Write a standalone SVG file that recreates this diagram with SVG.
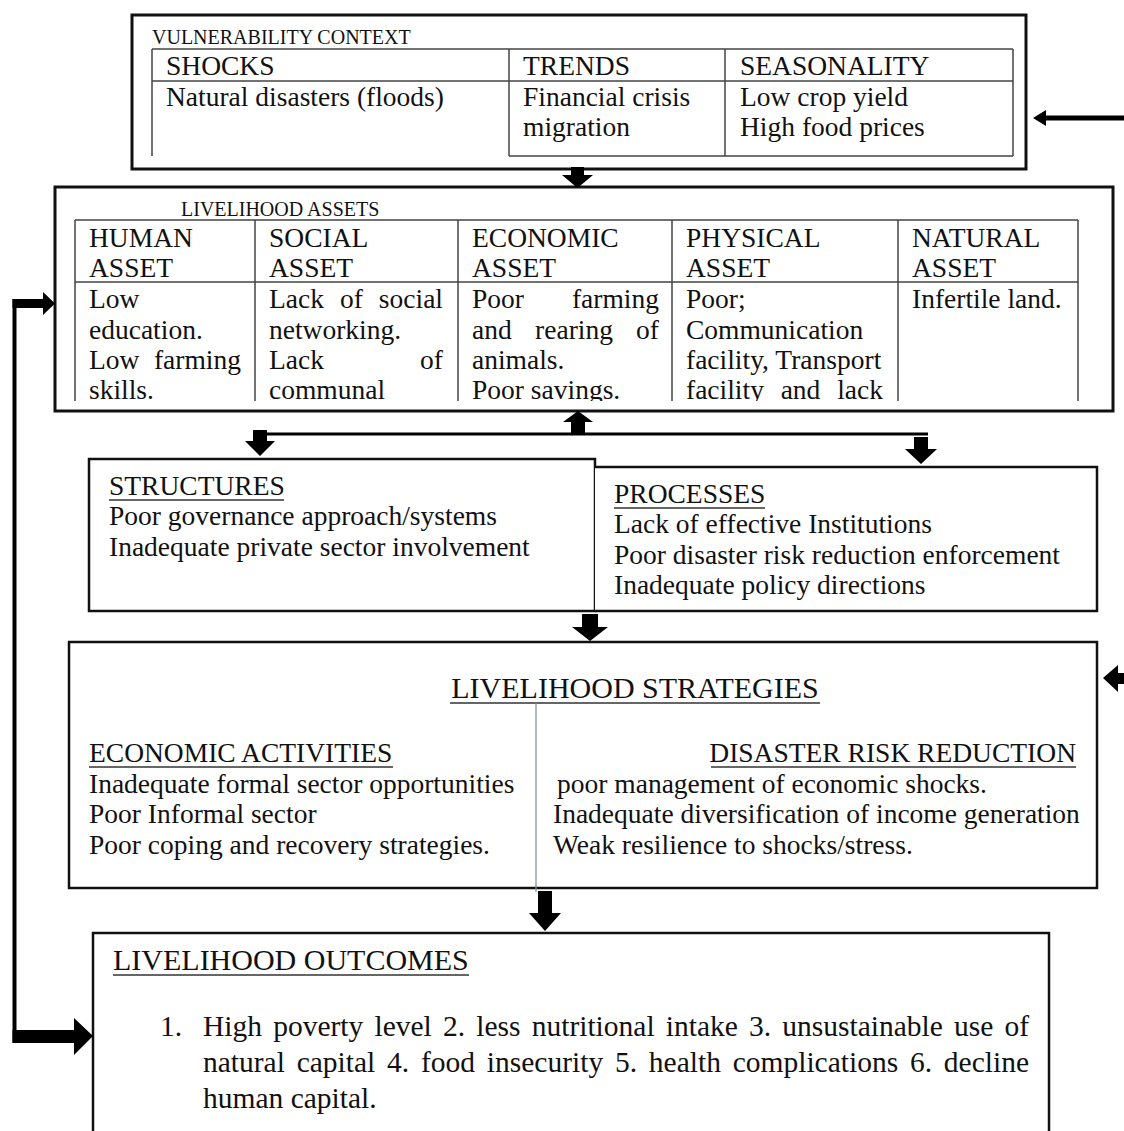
<svg xmlns="http://www.w3.org/2000/svg" width="1124" height="1131" viewBox="0 0 1124 1131">
<style>
text{font-family:"Liberation Serif","Times New Roman",serif;fill:#111;}
.t{font-size:27.5px;}
.s{font-size:20px;}
.h{font-size:30px;}
.o{font-size:29.5px;}
.box{fill:#fff;stroke:#111;stroke-width:2.5;}
.box3{fill:#fff;stroke:#111;stroke-width:3;}
.tbl{fill:none;stroke:#444;stroke-width:1.5;}
.ul{stroke:#333;stroke-width:1.5;}
.arr{fill:#000;}
.ln{fill:none;stroke:#000;}
</style>
<defs>
<clipPath id="assetsClip"><rect x="55" y="187" width="1058" height="214"/></clipPath>
</defs>
<rect width="1124" height="1131" fill="#fff"/>

<g id="node-vulnerability">
<rect class="box3" x="132" y="15" width="894" height="154"/>
<text class="s" x="152" y="44">VULNERABILITY CONTEXT</text>
<path class="tbl" d="M152,49H1013M152,81H1013M152,49V156M509,49V156M725,49V156M1013,49V156M509,156H1013"/>
<text class="t" x="166" y="75">SHOCKS</text>
<text class="t" x="523" y="75">TRENDS</text>
<text class="t" x="740" y="75">SEASONALITY</text>
<text class="t" x="166" y="106">Natural disasters (floods)</text>
<text class="t" x="523" y="106">Financial crisis</text>
<text class="t" x="523" y="136">migration</text>
<text class="t" x="740" y="106">Low crop yield</text>
<text class="t" x="740" y="136">High food prices</text>
</g>

<g id="node-assets">
<rect class="box3" x="55" y="187" width="1058" height="224"/>
<text class="s" x="181" y="216">LIVELIHOOD ASSETS</text>
<g clip-path="url(#assetsClip)">
<path class="tbl" d="M75,220H1078M75,282H1078M75,220V410M255,220V410M458,220V410M672,220V410M898,220V410M1078,220V410"/>
<text class="t" x="89" y="247">HUMAN</text>
<text class="t" x="89" y="277">ASSET</text>
<text class="t" x="269" y="247">SOCIAL</text>
<text class="t" x="269" y="277">ASSET</text>
<text class="t" x="472" y="247">ECONOMIC</text>
<text class="t" x="472" y="277">ASSET</text>
<text class="t" x="686" y="247">PHYSICAL</text>
<text class="t" x="686" y="277">ASSET</text>
<text class="t" x="912" y="247">NATURAL</text>
<text class="t" x="912" y="277">ASSET</text>

<text class="t" x="89" y="308">Low</text>
<text class="t" x="89" y="339">education.</text>
<text class="t" x="89" y="369">Low</text>
<text class="t" x="241" y="369" text-anchor="end">farming</text>
<text class="t" x="89" y="399">skills.</text>

<text class="t" x="269" y="308">Lack</text>
<text class="t" x="351.5" y="308" text-anchor="middle">of</text>
<text class="t" x="443" y="308" text-anchor="end">social</text>
<text class="t" x="269" y="339">networking.</text>
<text class="t" x="269" y="369">Lack</text>
<text class="t" x="443" y="369" text-anchor="end">of</text>
<text class="t" x="269" y="399">communal</text>

<text class="t" x="472" y="308">Poor</text>
<text class="t" x="659" y="308" text-anchor="end">farming</text>
<text class="t" x="472" y="339">and</text>
<text class="t" x="574" y="339" text-anchor="middle">rearing</text>
<text class="t" x="659" y="339" text-anchor="end">of</text>
<text class="t" x="472" y="369">animals.</text>
<text class="t" x="472" y="399">Poor savings.</text>

<text class="t" x="686" y="308">Poor;</text>
<text class="t" x="686" y="339">Communication</text>
<text class="t" x="686" y="369">facility, Transport</text>
<text class="t" x="686" y="399">facility</text>
<text class="t" x="800.5" y="399" text-anchor="middle">and</text>
<text class="t" x="883" y="399" text-anchor="end">lack</text>

<text class="t" x="912" y="308">Infertile land.</text>
</g>
</g>

<g id="node-structures">
<rect class="box" x="89" y="459" width="506" height="152"/>
<text class="t" x="109" y="495">STRUCTURES</text>
<line class="ul" x1="109" y1="500" x2="284" y2="500"/>
<text class="t" x="109" y="525">Poor governance approach/systems</text>
<text class="t" x="109" y="556">Inadequate private sector involvement</text>
</g>

<g id="node-processes">
<path class="box" d="M595,467H1097V611H595"/>
<text class="t" x="614" y="503">PROCESSES</text>
<line class="ul" x1="614" y1="508" x2="765" y2="508"/>
<text class="t" x="614" y="533">Lack of effective Institutions</text>
<text class="t" x="614" y="564">Poor disaster risk reduction enforcement</text>
<text class="t" x="614" y="594">Inadequate policy directions</text>
</g>

<g id="node-strategies">
<rect class="box" x="69" y="642" width="1028" height="246"/>
<text class="h" x="635" y="698" text-anchor="middle">LIVELIHOOD STRATEGIES</text>
<line class="ul" x1="450" y1="703" x2="820" y2="703"/>
<line x1="536" y1="703" x2="536" y2="892" stroke="#7d8ea3" stroke-width="1.2"/>
<text class="t" x="89" y="762">ECONOMIC ACTIVITIES</text>
<line class="ul" x1="89" y1="767" x2="393" y2="767"/>
<text class="t" x="89" y="793">Inadequate formal sector opportunities</text>
<text class="t" x="89" y="823">Poor Informal sector</text>
<text class="t" x="89" y="854">Poor coping and recovery strategies.</text>
<text class="t" x="1076" y="762" text-anchor="end">DISASTER RISK REDUCTION</text>
<line class="ul" x1="711" y1="767" x2="1076" y2="767"/>
<text class="t" x="557" y="793">poor management of economic shocks.</text>
<text class="t" x="553" y="823">Inadequate diversification of income generation</text>
<text class="t" x="553" y="854">Weak resilience to shocks/stress.</text>
</g>

<g id="node-outcomes">
<rect class="box" x="93" y="933" width="956" height="210"/>
<text class="h" x="113" y="970">LIVELIHOOD OUTCOMES</text>
<line class="ul" x1="113" y1="975" x2="469" y2="975"/>
<text class="o" x="160" y="1036">1.</text>
<text class="o" x="203" y="1036" word-spacing="3.8">High poverty level 2. less nutritional intake 3. unsustainable use of</text>
<text class="o" x="203" y="1072" word-spacing="4.4">natural capital 4. food insecurity 5. health complications 6. decline</text>
<text class="o" x="203" y="1108">human capital.</text>
</g>

<g id="connectors">
<!-- external arrow into vulnerability -->
<line class="ln" x1="1124" y1="118" x2="1043" y2="118" stroke-width="5"/>
<path class="arr" d="M1033,118L1046,110V126Z"/>
<!-- vulnerability -> assets -->
<path class="arr" d="M571,167H584V175H593L577.5,188L562,175H571Z"/>
<!-- up arrow into assets -->
<path class="arr" d="M571,434H585V422H593L578,411L563,422H571Z"/>
<line class="ln" x1="258" y1="434" x2="928" y2="434" stroke-width="3"/>
<!-- down to structures -->
<path class="arr" d="M253,430H267V441H275L260,456L245,441H253Z"/>
<!-- down to processes -->
<path class="arr" d="M914,437H928V449H937L921,464L905,449H914Z"/>
<!-- processes -> strategies -->
<path class="arr" d="M582,614H598V627H608L590,641L572,627H582Z"/>
<!-- external arrow into strategies -->
<path class="arr" d="M1103,678L1118,665V673H1124V684H1118V692Z"/>
<!-- strategies -> outcomes -->
<path class="arr" d="M538,891H552V913H561L545,931L529,913H538Z"/>
<!-- feedback loop outcomes -> assets -->
<line class="ln" x1="14.5" y1="299" x2="14.5" y2="1043" stroke-width="4"/>
<path class="arr" d="M12.5,299H43V292L55,303.5L43,315V308H12.5Z"/>
<path class="arr" d="M12.5,1030H74V1018L93,1036L74,1055V1043H12.5Z"/>
</g>
</svg>
